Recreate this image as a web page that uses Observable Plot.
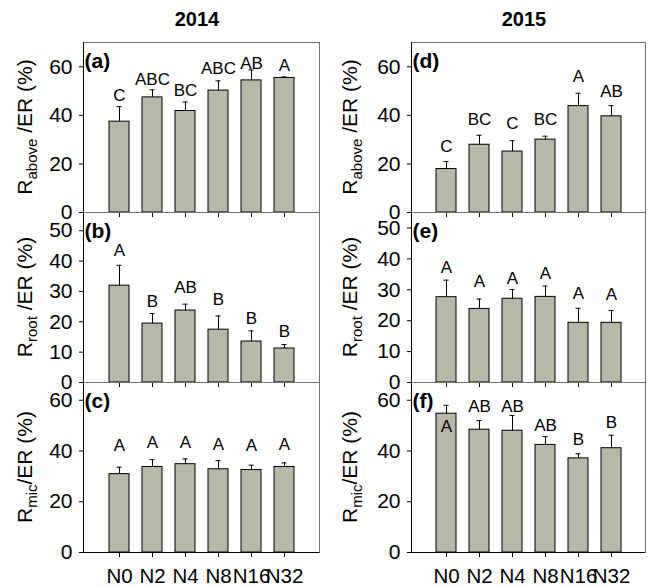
<!DOCTYPE html>
<html>
<head>
<meta charset="utf-8">
<script src="https://cdn.jsdelivr.net/npm/d3@7"></script>
<script src="https://cdn.jsdelivr.net/npm/@observablehq/plot@0.6"></script>
<style>
  html, body { margin: 0; padding: 0; background: white; }
  #chart { position: relative; width: 651px; height: 587px; font-family: 'Liberation Sans', Arial, sans-serif; color: black; }
  .panel { position: absolute; }
  .title { position: absolute; font-weight: bold; font-size: 20px; line-height: 24px; text-align: center; }
  .ylab { position: absolute; width: 170px; height: 24px; line-height: 24px; font-size: 21px; text-align: center; white-space: nowrap; transform: rotate(-90deg); }
  .ylab sub { font-size: 15px; vertical-align: -5px; line-height: 0; }
</style>
</head>
<body>
<div id="chart"></div>
<script>
const cats = ["N0", "N2", "N4", "N8", "N16", "N32"];
const years = ["2014", "2015"];

// (a) Rabove/ER 2014
const aMean = [37.4, 47.4, 41.8, 50.2, 54.4, 55.4];
const aSE = [6.2, 3.1, 3.7, 4.0, 4.3, 0.4];
const aLetters = ["C", "ABC", "BC", "ABC", "AB", "A"];
const aLetterY = [45.8, 52.7, 47.9, 56.9, 59.1, 58.2];

// (b) Rroot/ER 2014
const bMean = [31.9, 19.4, 23.7, 17.4, 13.5, 11.2];
const bSE = [6.7, 3.3, 2.1, 4.5, 3.5, 1.3];
const bLetters = ["A", "B", "AB", "B", "B", "B"];
const bLetterY = [41.8, 24.8, 29.4, 25.4, 19.4, 15.0];

// (c) Rmic/ER 2014
const cMean = [30.9, 33.7, 34.8, 32.8, 32.5, 33.7];
const cSE = [2.7, 2.9, 2.1, 3.4, 1.9, 1.6];
const cLetters = ["A", "A", "A", "A", "A", "A"];
const cLetterY = [40.2, 41.0, 41.0, 40.5, 40.2, 40.5];

// (d) Rabove/ER 2015
const dMean = [17.9, 27.9, 25.1, 30.0, 43.8, 39.6];
const dSE = [3.1, 3.9, 4.5, 1.4, 5.3, 4.4];
const dLetters = ["C", "BC", "C", "BC", "A", "AB"];
const dLetterY = [25.1, 36.1, 34.4, 36.1, 53.9, 47.7];

// (e) Rroot/ER 2015
const eMean = [27.6, 23.8, 27.1, 27.7, 19.3, 19.3];
const eSE = [5.5, 3.2, 3.0, 3.5, 4.7, 4.0];
const eLetters = ["A", "A", "A", "A", "A", "A"];
const eLetterY = [35.5, 30.9, 31.8, 33.5, 27.0, 26.8];

// (f) Rmic/ER 2015
const fMean = [54.7, 48.4, 48.0, 42.4, 37.1, 41.1];
const fSE = [3.3, 3.6, 6.0, 3.3, 1.8, 5.1];
const fLetters = ["A", "AB", "AB", "AB", "B", "B"];
const fLetterY = [47.4, 55.4, 55.4, 47.8, 42.5, 49.1];

const panelTags = ["(a)", "(b)", "(c)", "(d)", "(e)", "(f)"];
const yTicks = [[0, 20, 40, 60], [0, 10, 20, 30, 40, 50], [0, 20, 40, 60]];
const yMaxLeft = [70, 56, 67];
const yMaxRight = [70, 55, 67];
const ySubs = ["above", "root", "mic"];
const ySep = [" /ER (%)", " /ER (%)", "/ER (%)"];

const panels = [
  [aMean, aSE, aLetters, aLetterY],
  [bMean, bSE, bLetters, bLetterY],
  [cMean, cSE, cLetters, cLetterY],
  [dMean, dSE, dLetters, dLetterY],
  [eMean, eSE, eLetters, eLetterY],
  [fMean, fSE, fLetters, fLetterY]
];

const chart = document.getElementById("chart");
const FONT = "'Liberation Sans', Arial, sans-serif";
const BAR = "#b7b7aa";
const frameTop = 42, panelH = 170;
const cols = [
  {left: 0, width: 325, ml: 83, mr: 6},
  {left: 325, width: 326, ml: 86, mr: 6}
];

panels.forEach((p, i) => {
  const col = Math.floor(i / 3), row = i % 3;
  const c = cols[col];
  const [mean, se, letters, ly] = p;
  const rows = cats.map((k, j) => ({cat: k, mean: mean[j], se: se[j], letter: letters[j], ly: ly[j]}));
  const mt = 20, mb = row === 2 ? 45 : 20;
  const ymax = (col === 0 ? yMaxLeft : yMaxRight)[row];
  const svg = Plot.plot({
    width: c.width,
    height: panelH + mt + mb,
    marginLeft: c.ml,
    marginRight: c.mr,
    marginTop: mt,
    marginBottom: mb,
    style: {fontFamily: FONT, background: "transparent", overflow: "visible", color: "black"},
    x: {domain: cats, paddingInner: 0.4, paddingOuter: 0.7, axis: null},
    y: {domain: [0, ymax], axis: null},
    marks: [
      Plot.frame({stroke: "#707070"}),
      Plot.barY(rows, {x: "cat", y: "mean", fill: BAR, stroke: "black", strokeWidth: 1}),
      Plot.ruleX(rows, {x: "cat", y1: "mean", y2: d => d.mean + d.se, stroke: "black"}),
      Plot.tickY(rows, {x: "cat", y: d => d.mean + d.se, stroke: "black", insetLeft: 7.5, insetRight: 7.5}),
      Plot.text(rows, {x: "cat", y: "ly", text: "letter", lineAnchor: "bottom", fontSize: 17, fill: "black"}),
      Plot.frame({anchor: "left", stroke: "black"}),
      Plot.ruleY([0], {stroke: "black"}),
      Plot.axisY({ticks: yTicks[row], tickSize: 4, tickPadding: 7, fontSize: 21, label: null, stroke: "black"}),
      Plot.axisX({tickSize: 5, tickPadding: 11, fontSize: 20.5, label: null,
        tickFormat: row === 2 ? (d => d) : (() => "")}),
      Plot.text([panelTags[i]], {frameAnchor: "top-left", dx: 1, dy: 25, lineAnchor: "bottom",
        fontWeight: "bold", fontSize: 21, fill: "black"})
    ]
  });
  svg.classList.add("panel");
  svg.style.left = c.left + "px";
  svg.style.top = (frameTop + row * panelH - mt) + "px";
  chart.appendChild(svg);

  // y-axis label with subscript
  const lab = document.createElement("div");
  lab.className = "ylab";
  const cx = c.left + 24.7, cy = frameTop + row * panelH + panelH / 2;
  lab.style.left = (cx - 85) + "px";
  lab.style.top = (cy - 12) + "px";
  lab.innerHTML = "R<sub>" + ySubs[row] + "</sub>" + ySep[row];
  chart.appendChild(lab);

  if (row === 0) {
    const t = document.createElement("div");
    t.className = "title";
    const fl = c.left + c.ml, fw = c.width - c.ml - c.mr;
    t.style.left = (fl - 4) + "px";
    t.style.width = fw + "px";
    t.style.top = "7px";
    t.textContent = years[col];
    chart.appendChild(t);
  }
});
</script>
</body>
</html>
